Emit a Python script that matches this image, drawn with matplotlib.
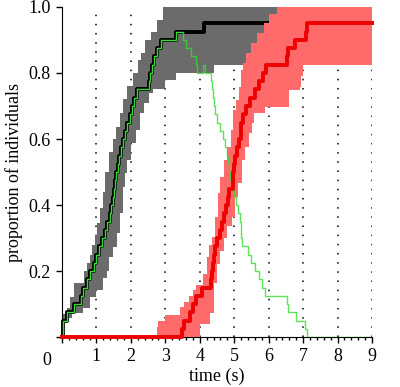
import numpy as np
import matplotlib
matplotlib.use("Agg")
import matplotlib.pyplot as plt

plt.rcParams['font.family'] = ['Liberation Serif', 'DejaVu Serif']

# black: cumulative proportion (step times / values)
black_t = [0, 0.02, 0.15, 0.35, 0.55, 0.62, 0.72, 0.82, 0.92, 1.0, 1.08, 1.17, 1.25,
           1.32, 1.38, 1.43, 1.47, 1.5, 1.54, 1.58, 1.62, 1.66, 1.72, 1.78, 1.84, 1.9,
           1.96, 2.03, 2.1, 2.17, 2.52, 2.56, 2.6, 2.66, 2.76, 2.86, 3.3, 4.12, 9]
black_v = [0, 0.05, 0.075, 0.1, 0.125, 0.15, 0.175, 0.2, 0.225, 0.25, 0.275, 0.3, 0.325,
           0.35, 0.375, 0.4, 0.425, 0.45, 0.475, 0.5, 0.525, 0.55, 0.575, 0.6, 0.625, 0.65,
           0.675, 0.7, 0.725, 0.75, 0.775, 0.8, 0.825, 0.85, 0.875, 0.9, 0.925, 0.95, 0.95]

# grey band
grey_up_t = [0, 0.14, 0.22, 0.35, 0.65, 0.72, 0.8, 0.88, 0.95, 1.02, 1.1, 1.18, 1.26, 1.36,
             1.48, 1.56, 1.68, 1.78, 1.88, 2.06, 2.2, 2.3, 2.42, 2.58, 2.75, 2.93, 9]
grey_up_v = [0.07, 0.087, 0.12, 0.163, 0.2, 0.225, 0.25, 0.28, 0.31, 0.345, 0.39, 0.44, 0.5,
             0.56, 0.6, 0.637, 0.68, 0.72, 0.76, 0.8, 0.84, 0.86, 0.9, 0.925, 0.96, 1.0, 1.0]
grey_lo_t = [0, 0.1, 0.3, 0.6, 0.82, 1.0, 1.2, 1.3, 1.37, 1.47, 1.6, 1.69, 1.77, 1.84,
             1.9, 2.0, 2.14, 2.25, 2.38, 2.52, 2.65, 3.0, 3.3, 4.42, 9]
grey_lo_v = [0.03, 0.057, 0.072, 0.087, 0.122, 0.142, 0.178, 0.2, 0.243, 0.274, 0.314, 0.375,
             0.455, 0.496, 0.536, 0.587, 0.627, 0.678, 0.708, 0.738, 0.75, 0.78, 0.8, 0.825, 0.825]

# red: cumulative proportion
red_t = [0, 3.47, 3.55, 3.72, 3.8, 3.88, 4.05, 4.33, 4.35, 4.37, 4.4, 4.44, 4.5, 4.6, 4.65,
         4.7, 4.76, 4.81, 4.86, 4.96, 4.97, 4.99, 5.03, 5.08, 5.14, 5.19, 5.21, 5.26, 5.33,
         5.45, 5.6, 5.72, 5.84, 5.93, 6.54, 6.57, 6.76, 7.07, 7.1, 9]
red_v = [0, 0.025, 0.05, 0.075, 0.1, 0.125, 0.15, 0.175, 0.2, 0.225, 0.25, 0.275, 0.3, 0.325,
         0.35, 0.375, 0.4, 0.425, 0.45, 0.475, 0.5, 0.525, 0.55, 0.575, 0.6, 0.625, 0.65,
         0.675, 0.7, 0.725, 0.75, 0.775, 0.8, 0.825, 0.85, 0.875, 0.9, 0.925, 0.95, 0.95]

# red band
red_up_t = [2.75, 2.8, 3.0, 3.43, 3.55, 3.68, 3.8, 3.9, 4.1, 4.2, 4.28, 4.36, 4.45, 4.52,
            4.6, 4.7, 4.8, 4.9, 4.96, 5.05, 5.15, 5.2, 5.25, 5.35, 5.5, 5.65, 5.85, 6.0, 6.23, 9]
red_up_v = [0.03, 0.05, 0.067, 0.09, 0.107, 0.125, 0.142, 0.158, 0.19, 0.243, 0.28, 0.304,
            0.365, 0.435, 0.486, 0.536, 0.577, 0.627, 0.688, 0.718, 0.758, 0.809, 0.83, 0.86,
            0.89, 0.92, 0.95, 0.98, 1.0, 1.0]
red_lo_t = [2.75, 3.91, 4.0, 4.3, 4.4, 4.5, 4.6, 4.7, 4.8, 4.93, 5.03, 5.12, 5.22, 5.32,
            5.42, 5.52, 5.58, 5.9, 6.6, 6.9, 6.95, 7.0, 9]
red_lo_v = [0, 0, 0.04, 0.072, 0.163, 0.22, 0.26, 0.3, 0.335, 0.365, 0.425, 0.466, 0.536,
            0.577, 0.617, 0.648, 0.678, 0.698, 0.748, 0.758, 0.79, 0.825, 0.825]

# green: decline after the peak
green_t = [3.52, 3.6, 3.75, 3.88, 3.92, 4.1, 4.14, 4.32, 4.35, 4.38, 4.4, 4.43, 4.5, 4.6,
           4.68, 4.74, 4.78, 4.83, 4.86, 4.88, 4.95, 5.0, 5.06, 5.12, 5.16, 5.19, 5.21, 5.23,
           5.4, 5.5, 5.6, 5.72, 5.8, 5.9, 6.54, 6.57, 6.8, 7.05, 7.1, 9]
green_v = [0.9, 0.875, 0.85, 0.825, 0.8, 0.825, 0.8, 0.775, 0.75, 0.725, 0.7, 0.675, 0.65,
           0.625, 0.6, 0.575, 0.55, 0.525, 0.5, 0.475, 0.45, 0.425, 0.4, 0.375, 0.35, 0.325,
           0.3, 0.275, 0.25, 0.225, 0.2, 0.175, 0.15, 0.125, 0.1, 0.075, 0.05, 0.025, 0, 0]


def steps(t, v):
    xs, ys = [t[0]], [v[0]]
    for i in range(1, len(t)):
        xs += [t[i], t[i]]
        ys += [v[i - 1], v[i]]
    return np.array(xs), np.array(ys)


def band(ax, ut, uv, lt, lv, color, z):
    ux, uy = steps(ut, uv)
    lx, ly = steps(lt, lv)
    ax.fill(np.r_[ux, lx[::-1]], np.r_[uy, ly[::-1]], color=color, lw=0, zorder=z)


fig = plt.figure(figsize=(4.0, 3.87), dpi=100)
ax = fig.add_axes([0.155, 0.129, 0.775, 0.853])

for x in range(1, 10):
    ax.axvline(x, color='k', lw=1.1, ls=(0, (1, 5)), zorder=1)

band(ax, grey_up_t, grey_up_v, grey_lo_t, grey_lo_v, '#6b6b6b', 2)
ax.step(black_t, black_v, where='post', color='k', lw=2.8, zorder=3, clip_on=False)
band(ax, red_up_t, red_up_v, red_lo_t, red_lo_v, '#ff6b6b', 3.5)

n = black_t.index(3.3) + 1
ax.step(black_t[:n] + [3.52], black_v[:n] + [0.925], where='post', color='#33dd33',
        lw=1.0, zorder=4)
ax.step([3.52] + green_t, [0.925] + green_v, where='post', color='#33dd33', lw=1.0,
        alpha=0.8, zorder=5)
ax.step(red_t, red_v, where='post', color='#ee0000', lw=2.8, zorder=6, clip_on=False)

ax.set_xlim(0, 9)
ax.set_ylim(0, 1.0)
ax.spines['top'].set_visible(False)
ax.spines['right'].set_visible(False)
ax.set_xticks(range(10))
ax.set_xticklabels([''] + [str(i) for i in range(1, 10)])
ax.set_xticks(np.arange(0, 9.01, 0.2), minor=True)
ax.set_yticks([0, 0.2, 0.4, 0.6, 0.8, 1.0])
ax.set_yticklabels(['', '0.2', '0.4', '0.6', '0.8', '1.0'])
ax.tick_params(axis='both', which='major', direction='out', length=4, width=1,
               labelsize=13, pad=4)
ax.tick_params(axis='x', which='minor', direction='out', length=2.5, width=1)
ax.text(-0.45, -0.045, '0', transform=ax.get_xaxis_transform(), ha='center', va='top',
        fontsize=13)
ax.set_xlabel('time (s)', fontsize=13, labelpad=2)
ax.set_ylabel('proportion of individuals', fontsize=13, labelpad=4)

fig.savefig('out.png', dpi=100)
